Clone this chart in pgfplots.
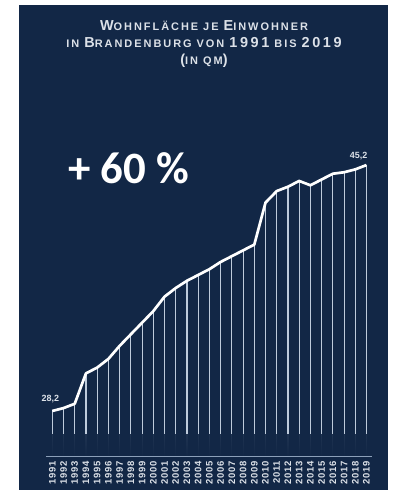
\documentclass[border=0pt]{standalone}
\usepackage{fontspec}
\setmainfont{Liberation Sans}
\newfontfamily\carlito{Carlito}
\newfontfamily\titlefont{Liberation Sans}[LetterSpace=18]
\newfontfamily\tickfont{Liberation Sans}[LetterSpace=8]
\usepackage{pgfplots}
\usepackage{pgfplotstable}
\pgfplotsset{compat=1.18}
\usetikzlibrary{fadings}
\definecolor{navy}{RGB}{18,39,70}
\definecolor{comb}{RGB}{190,203,220}
\definecolor{base}{RGB}{140,160,185}
\definecolor{txt}{RGB}{220,225,232}
\newcommand\Bg[1]{{\fontsize{14.5}{15}\selectfont #1}}
\newcommand\Sm[1]{{\fontsize{11}{15}\selectfont #1}}
\pgfplotstableread{
year val
1991 28.2
1992 28.4
1993 28.7
1994 30.8
1995 31.2
1996 31.8
1997 32.7
1998 33.5
1999 34.3
2000 35.1
2001 36.1
2002 36.7
2003 37.2
2004 37.6
2005 38.0
2006 38.5
2007 38.9
2008 39.3
2009 39.7
2010 42.6
2011 43.4
2012 43.7
2013 44.1
2014 43.8
2015 44.2
2016 44.6
2017 44.7
2018 44.9
2019 45.2
}\datatable
\begin{document}
\begin{tikzpicture}[x=1bp,y=1bp]
\fill[white] (0,0) rectangle (398,491);
\fill[navy] (19,1) rectangle (388,486);
\begin{axis}[at={(46bp,34.3bp)}, anchor=south west, scale only axis,
  width=326bp, height=306.7bp,
  xmin=1990.44, xmax=2019.49, ymin=25.04, ymax=46.24,
  axis line style={draw=none}, major tick length=0pt, ytick=\empty,
  xtick={1991,...,2019},
  clip mode=individual,
  x tick label style={/pgf/number format/1000 sep={}, /pgf/number format/assume math mode=true,
    font=\tickfont\bfseries\fontsize{9.5}{9.5}\selectfont, text=txt, rotate=90, anchor=east, inner sep=0pt},
  xticklabel shift=4bp]
\addplot[ycomb, comb, line width=1.1bp, mark=none] table[x=year,y=val]{\datatable};
\fill[navy, path fading=north] (axis cs:1990.44,25.04) rectangle (axis cs:2019.49,26.6);
\draw[base, line width=1.5bp] (axis cs:1990.44,25.04) -- (axis cs:2019.49,25.04);
\addplot[white, line width=2.7bp, line join=round, mark=none] table[x=year,y=val]{\datatable};
\node[font=\bfseries\fontsize{9}{9}\selectfont, text=txt, anchor=base, inner sep=0pt, xshift=-2bp, yshift=9bp] at (axis cs:1991,28.2) {28,2};
\node[font=\bfseries\fontsize{9}{9}\selectfont, text=txt, anchor=base east, inner sep=0pt, xshift=1bp, yshift=7bp] at (axis cs:2019,45.2) {45,2};
\end{axis}
\node[anchor=base, inner sep=0pt, text=txt, font=\titlefont\bfseries] at (204,460) {\Bg{W}\Sm{OHNFLÄCHE JE }\Bg{E}\Sm{INWOHNER}};
\node[anchor=base, inner sep=0pt, text=txt, font=\titlefont\bfseries] at (204,443) {\Sm{IN }\Bg{B}\Sm{RANDENBURG VON }\Bg{1991}\Sm{ BIS }\Bg{2019}};
\node[anchor=base, inner sep=0pt, text=txt, font=\titlefont\bfseries] at (204,426) {\Bg{(}\Sm{IN QM}\Bg{)}};
\node[anchor=base west, inner sep=0pt, text=white, font=\carlito\bfseries\fontsize{45}{50}\selectfont] at (68,307.7) {+ 60 \%};
\pgfresetboundingbox
\useasboundingbox (0,0) rectangle (398,491);
\end{tikzpicture}
\end{document}
